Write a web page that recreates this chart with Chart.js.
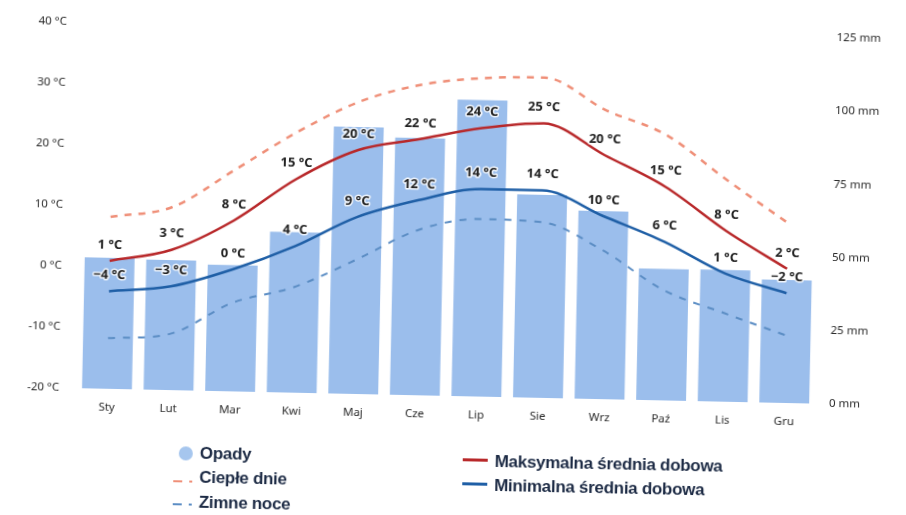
<!DOCTYPE html>
<html lang="pl">
<head>
<meta charset="utf-8">
<script src="https://cdn.jsdelivr.net/npm/chart.js@4.4.1/dist/chart.umd.min.js"></script>
<style>
  html, body { margin: 0; padding: 0; background: #fff; overflow: hidden; }
  /* the source is a slightly tilted scan, so the whole sheet is tilted too */
  #wrap { position: relative; width: 906px; height: 515px; transform: rotate(1.2deg); transform-origin: 453px 257px; }
  #climate { position: absolute; left: 0; top: 0; }
  .item { position: absolute; white-space: nowrap; height: 20px; line-height: 20px;
          font: bold 17px "Liberation Sans", Arial, sans-serif; color: #1d2b45; letter-spacing: -0.3px; }
  .mark { position: absolute; }
</style>
</head>
<body>
<div id="wrap">
  <canvas id="climate" width="906" height="515"></canvas>

  <span class="mark" style="left:183px;top:452px;width:14px;height:14px;border-radius:7px;background:#a6c6ee;"></span>
  <div class="item" style="left:204px;top:449px;">Opady</div>

  <span class="mark" style="left:178px;top:486px;width:9px;height:2px;background:#ef8f78;"></span>
  <span class="mark" style="left:194px;top:486px;width:3px;height:2px;background:#ef8f78;"></span>
  <div class="item" style="left:204px;top:473px;">Ciepłe dnie</div>

  <span class="mark" style="left:178px;top:509px;width:9px;height:2px;background:#5b8dc4;"></span>
  <span class="mark" style="left:194px;top:509px;width:3px;height:2px;background:#5b8dc4;"></span>
  <div class="item" style="left:204px;top:498px;">Zimne noce</div>

  <span class="mark" style="left:467px;top:458px;width:25px;height:3px;background:#b8282a;"></span>
  <div class="item" style="left:499px;top:451px;">Maksymalna średnia dobowa</div>

  <span class="mark" style="left:467px;top:482px;width:25px;height:3px;background:#1f5fa6;"></span>
  <div class="item" style="left:499px;top:475px;">Minimalna średnia dobowa</div>
</div>

<script>
const months = ['Sty', 'Lut', 'Mar', 'Kwi', 'Maj', 'Cze', 'Lip', 'Sie', 'Wrz', 'Paź', 'Lis', 'Gru'];
const precipitation = [44.7, 44.4, 43.1, 54.8, 91.2, 87.9, 101.3, 69.3, 64.2, 44.9, 45.0, 42.0];
const maxTemp = [1, 3, 8, 15, 20, 22, 24, 25, 20, 15, 8, 2];
const minTemp = [-4, -3, 0, 4, 9, 12, 14, 14, 10, 6, 1, -2];
const hotDays = [8.2, 10.0, 16.3, 22.7, 27.9, 30.9, 32.2, 32.5, 27.4, 23.5, 16.3, 9.5];
const coldNights = [-11.7, -10.8, -5.5, -2.7, 2.0, 7.1, 9.1, 8.8, 4.4, -1.9, -5.5, -8.9];
const tempTicks = [-20, -10, 0, 10, 20, 30, 40];
const rainTicks = [0, 25, 50, 75, 100, 125];

const tickFont = { family: '"Noto Sans", "Open Sans", sans-serif', size: 11.5 };

// value labels above the two mean lines
const valueLabels = {
    id: 'valueLabels',
    afterDatasetsDraw(chart) {
        const ctx = chart.ctx;
        ctx.save();
        ctx.font = 'bold 13px "Open Sans", "Noto Sans", sans-serif';
        ctx.textAlign = 'center';
        ctx.textBaseline = 'middle';
        ctx.lineJoin = 'round';
        chart.data.datasets.forEach((ds, i) => {
            if (!ds.showValues) return;
            chart.getDatasetMeta(i).data.forEach((pt, j) => {
                const v = ds.data[j];
                const txt = (v < 0 ? '\u2212' + Math.abs(v) : v) + ' °C';
                ctx.strokeStyle = 'rgba(255,255,255,0.85)';
                ctx.lineWidth = 3;
                ctx.strokeText(txt, pt.x, pt.y - 16);
                ctx.fillStyle = '#222';
                ctx.fillText(txt, pt.x, pt.y - 16);
            });
        });
        ctx.restore();
    }
};

new Chart(document.getElementById('climate'), {
    type: 'bar',
    data: {
        labels: months,
        datasets: [
            {
                label: 'Maksymalna średnia dobowa',
                type: 'line',
                data: maxTemp,
                yAxisID: 'y',
                borderColor: '#b8282a',
                borderWidth: 2.5,
                pointRadius: 0,
                cubicInterpolationMode: 'monotone',
                showValues: true,
                order: 1
            },
            {
                label: 'Minimalna średnia dobowa',
                type: 'line',
                data: minTemp,
                yAxisID: 'y',
                borderColor: '#1f5fa6',
                borderWidth: 2.5,
                pointRadius: 0,
                cubicInterpolationMode: 'monotone',
                showValues: true,
                order: 2
            },
            {
                label: 'Ciepłe dnie',
                type: 'line',
                data: hotDays,
                yAxisID: 'y',
                borderColor: '#ef8f78',
                borderWidth: 2.5,
                borderDash: [7, 7],
                pointRadius: 0,
                cubicInterpolationMode: 'monotone',
                order: 3
            },
            {
                label: 'Zimne noce',
                type: 'line',
                data: coldNights,
                yAxisID: 'y',
                borderColor: '#5b8dc4',
                borderWidth: 2,
                borderDash: [7, 8],
                pointRadius: 0,
                cubicInterpolationMode: 'monotone',
                order: 4
            },
            {
                label: 'Opady',
                data: precipitation,
                yAxisID: 'y2',
                backgroundColor: 'rgb(155,190,236)',
                categoryPercentage: 0.81,
                barPercentage: 1,
                order: 10
            }
        ]
    },
    options: {
        responsive: false,
        animation: false,
        devicePixelRatio: 1,
        layout: { padding: { top: 30, left: 0, right: 0, bottom: 0 } },
        plugins: { legend: { display: false }, tooltip: { enabled: false } },
        scales: {
            x: {
                grid: { display: false, drawTicks: false },
                border: { display: false },
                ticks: { color: '#2a2a2a', font: tickFont, padding: 12 },
                afterFit(scale) { scale.height = 119; }
            },
            y: {
                position: 'left',
                min: -20,
                max: 40,
                grid: { display: false, drawTicks: false },
                border: { display: false },
                afterBuildTicks(scale) { scale.ticks = tempTicks.map(v => ({ value: v })); },
                ticks: { color: '#2a2a2a', font: tickFont, padding: 17, callback: v => v + ' °C' },
                afterFit(scale) { scale.width = 79; }
            },
            y2: {
                position: 'right',
                min: 0,
                max: 125,
                grid: { display: false, drawTicks: false },
                border: { display: false },
                afterBuildTicks(scale) { scale.ticks = rainTicks.map(v => ({ value: v })); },
                ticks: { color: '#2a2a2a', font: tickFont, padding: 14, callback: v => v + ' mm' },
                afterFit(scale) { scale.width = 88; }
            }
        }
    },
    plugins: [valueLabels]
});
</script>
</body>
</html>
